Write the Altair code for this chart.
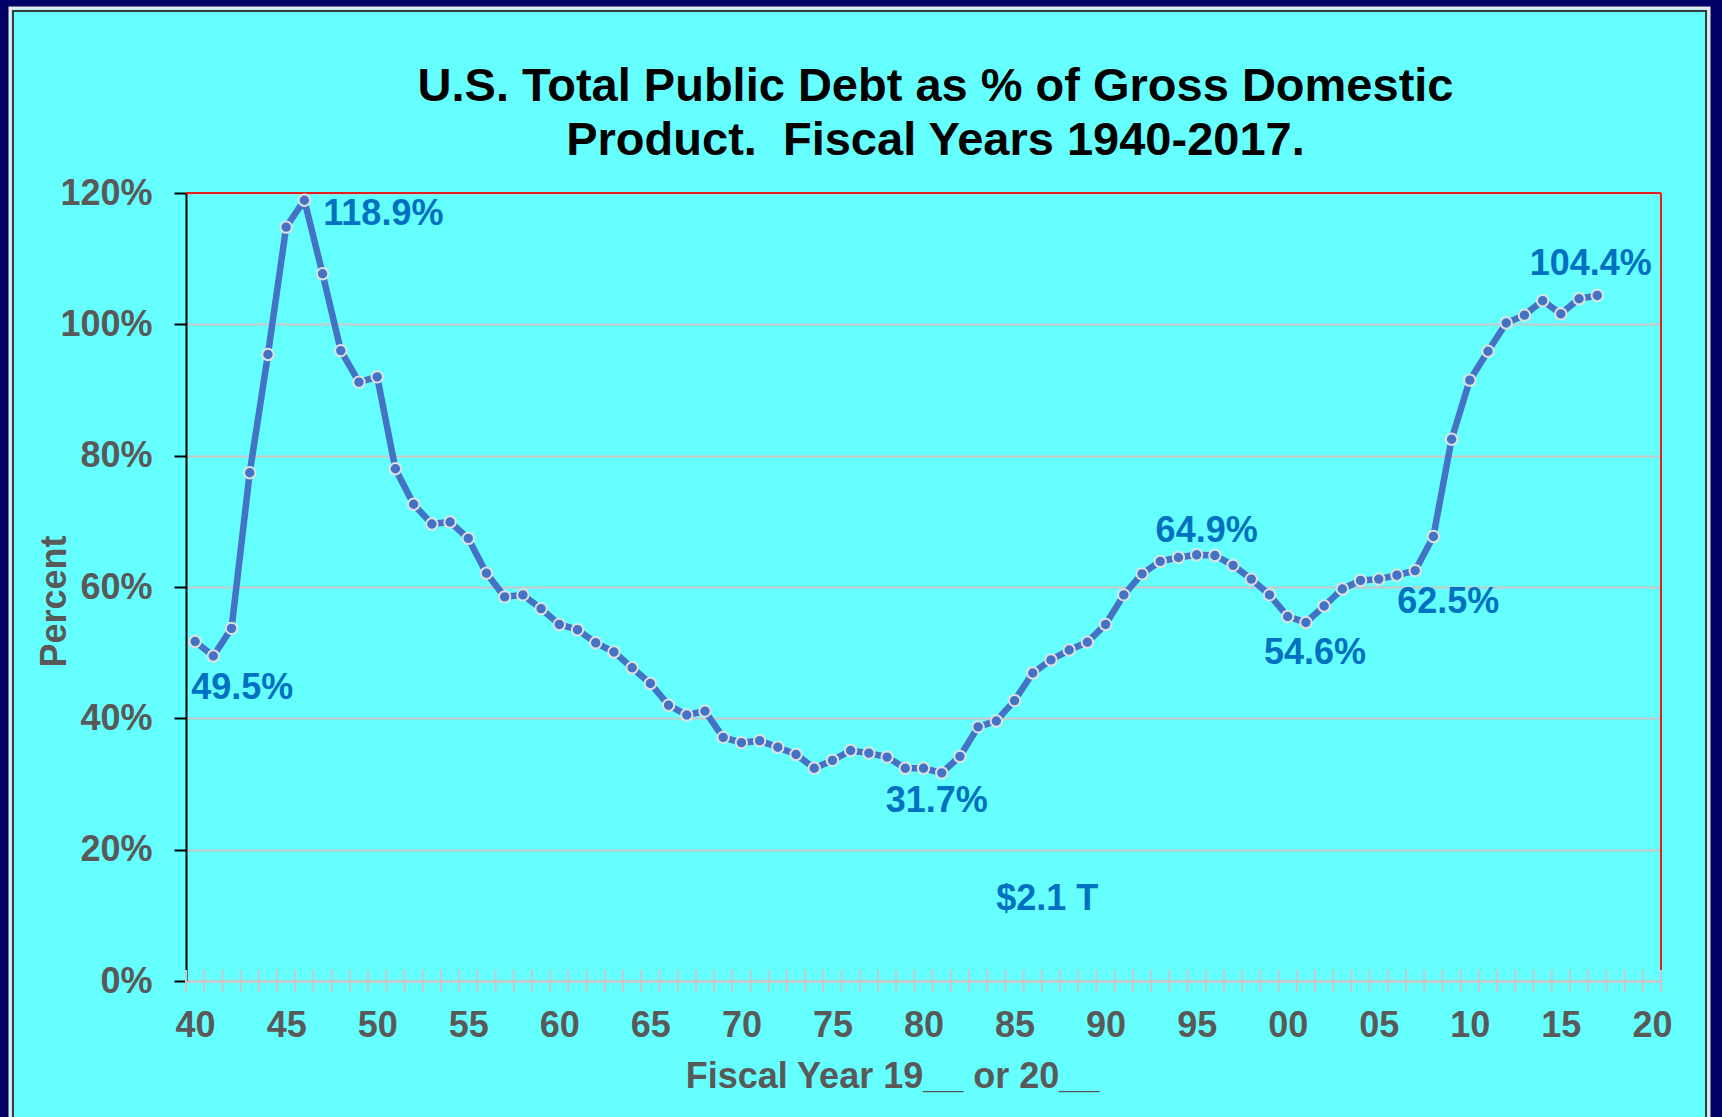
import altair as alt
import pandas as pd

# ---------------- data ----------------
years = list(range(1940, 2018))
debt_pct = [
    51.7, 49.5, 53.7, 77.4, 95.4, 114.8, 118.9, 107.7, 96.0, 91.2,   # 1940-49
    92.0, 78.0, 72.6, 69.6, 69.9, 67.4, 62.1, 58.5, 58.8, 56.7,      # 1950-59
    54.3, 53.5, 51.5, 50.1, 47.7, 45.3, 42.0, 40.5, 41.1, 37.1,      # 1960-69
    36.3, 36.6, 35.6, 34.5, 32.4, 33.6, 35.1, 34.7, 34.1, 32.4,      # 1970-79
    32.4, 31.7, 34.2, 38.7, 39.6, 42.7, 46.9, 48.9, 50.4, 51.6,      # 1980-89
    54.3, 58.8, 62.0, 63.9, 64.5, 64.9, 64.8, 63.3, 61.2, 58.8,      # 1990-99
    55.5, 54.6, 57.1, 59.7, 61.0, 61.2, 61.8, 62.5, 67.7, 82.5,      # 2000-09
    91.5, 95.9, 100.2, 101.4, 103.6, 101.6, 103.9, 104.4,            # 2010-17
]

label_years = [1941, 1946, 1981, 1995, 2001, 2007, 2017]
label_texts = ["49.5%", "118.9%", "31.7%", "64.9%", "54.6%", "62.5%", "104.4%"]

note_texts = ["$2.1 T"]
note_years = [1986.8]
note_pct = [12.85]

y_tick_values = [0, 20, 40, 60, 80, 100, 120]
x_label_years = list(range(1940, 2021, 5))
category_years = list(range(1940, 2022))

title_lines = ["U.S. Total Public Debt as % of Gross Domestic",
               "Product.\u00a0 Fiscal Years 1940-2017."]
x_title = "Fiscal Year 19__ or 20__"
y_title = "Percent"

# ---------------- styling / layout ----------------
W, H = 1475, 788
PAD = {"left": 186, "top": 193, "right": 61, "bottom": 136}
FONT = "Liberation Sans"
GRAY = "#595959"
LABEL_BLUE = "#0070C0"
LINE_BLUE = "#4472C4"
CYAN = "#66FFFF"
NAVY = "#000066"
RED = "#E02020"
GRID = "#C8C8C8"

# label offsets (dx, dy) in pixels, matched to label_years order
label_offsets = [(29, 32), (79, 14), (-5, 28.5), (10, -24), (9, 31), (33, 31), (-6.5, -31)]

df = pd.DataFrame({"year": years, "pct": debt_pct})
pct_by_year = dict(zip(years, debt_pct))

xscale = alt.Scale(domain=[1939.5, 2020.5], nice=False, zero=False)
yscale = alt.Scale(domain=[0, 120], nice=False, zero=True)

x_axis = alt.Axis(
    values=x_label_years,
    labelExpr="(datum.value % 100) < 10 ? '0' + (datum.value % 100) : '' + (datum.value % 100)",
    labelFont=FONT, labelFontSize=36, labelFontWeight="bold", labelColor=GRAY,
    labelPadding=27, labelFlush=False, labelOverlap=False, labelBaseline="top",
    ticks=False,
    domainColor=GRID, domainWidth=2.5,
    grid=False,
    title=x_title, titleFont=FONT, titleFontSize=36, titleFontWeight="bold",
    titleColor=GRAY, titleX=706, titleY=95, titleAlign="center", titleBaseline="middle",
)
y_axis = alt.Axis(
    values=y_tick_values,
    labelExpr="datum.value + '%'",
    labelFont=FONT, labelFontSize=36, labelFontWeight="bold", labelColor=GRAY,
    labelPadding=22, labelBaseline="middle",
    tickSize=12, tickColor="black", tickWidth=2,
    domainColor="black", domainWidth=2,
    grid=True, gridColor=GRID, gridWidth=2,
    title=y_title, titleFont=FONT, titleFontSize=36, titleFontWeight="bold",
    titleColor=GRAY, titleX=-132, titleY=408, titleAngle=270,
    titleAlign="center", titleBaseline="middle",
)


def X(field):
    return alt.X(field, scale=xscale, axis=x_axis)


def Y(field):
    return alt.Y(field, scale=yscale, axis=y_axis)


one = pd.DataFrame({"k": [0]})

# navy frame strips around the cyan sheet
frame = [
    alt.Chart(one).mark_rect(color=NAVY).encode(
        x=alt.value(-PAD["left"]), x2=alt.value(-175),
        y=alt.value(-PAD["top"]), y2=alt.value(H + PAD["bottom"])),
    alt.Chart(one).mark_rect(color=NAVY).encode(
        x=alt.value(-PAD["left"]), x2=alt.value(W + PAD["right"]),
        y=alt.value(-PAD["top"]), y2=alt.value(-184)),
    alt.Chart(one).mark_rect(color=NAVY).encode(
        x=alt.value(W + 47), x2=alt.value(W + PAD["right"]),
        y=alt.value(-PAD["top"]), y2=alt.value(H + PAD["bottom"])),
    alt.Chart(one).mark_rect(fill="transparent", stroke="#E8E8E8", strokeWidth=3).encode(
        x=alt.value(-176), x2=alt.value(W + 48),
        y=alt.value(-185), y2=alt.value(H + PAD["bottom"] + 10)),
    alt.Chart(one).mark_rect(fill="transparent", stroke="#3a3a3a", strokeWidth=2).encode(
        x=alt.value(-173), x2=alt.value(W + 45),
        y=alt.value(-182), y2=alt.value(H + PAD["bottom"] + 10)),
]

base = alt.Chart(df).encode(x=X("year:Q"), y=Y("pct:Q"))
line = base.mark_line(color=LINE_BLUE, strokeWidth=6.5)
points = base.mark_circle(size=130, color=LINE_BLUE, opacity=1,
                          stroke="#E0E0E0", strokeWidth=2)

red_top = alt.Chart(one).mark_rule(color=RED, strokeWidth=2).encode(
    y=alt.Y(datum=120, scale=yscale, axis=y_axis))
red_right = alt.Chart(one).mark_rule(color=RED, strokeWidth=2).encode(
    x=alt.X(datum=2020.5, scale=xscale, axis=x_axis))

label_layers = []
for yr, txt, (dx, dy) in zip(label_years, label_texts, label_offsets):
    ldf = pd.DataFrame({"year": [yr], "pct": [pct_by_year[yr]], "label": [txt]})
    label_layers.append(
        alt.Chart(ldf).mark_text(
            font=FONT, fontSize=36, fontWeight="bold", color=LABEL_BLUE,
            align="center", baseline="middle", dx=dx, dy=dy,
        ).encode(x=X("year:Q"), y=Y("pct:Q"), text="label:N")
    )

note = alt.Chart(pd.DataFrame({"year": note_years, "pct": note_pct, "label": note_texts})).mark_text(
    font=FONT, fontSize=36, fontWeight="bold", color=LABEL_BLUE,
    align="center", baseline="middle", dy=2,
).encode(x=X("year:Q"), y=Y("pct:Q"), text="label:N")

bdf = pd.DataFrame({"b": [y - 0.5 for y in category_years]})
cross_ticks = alt.Chart(bdf).mark_rule(color=GRID, strokeWidth=2).encode(
    x=X("b:Q"),
    y=alt.value(H - 11), y2=alt.value(H + 11),
)

chart = alt.layer(
    *frame, red_top, red_right, line, points, *label_layers, note, cross_ticks
).properties(
    width=W, height=H,
    padding=PAD,
    autosize=alt.AutoSizeParams(type="none"),
    background=CYAN,
    title=alt.TitleParams(
        text=title_lines, font=FONT, fontSize=47, fontWeight="bold", color="black",
        anchor="middle", frame="group", dx=12, offset=-212, baseline="bottom", lineHeight=54,
    ),
).configure_view(strokeWidth=0)

chart.save("out.html", embed_options={"renderer": "svg", "actions": False})
